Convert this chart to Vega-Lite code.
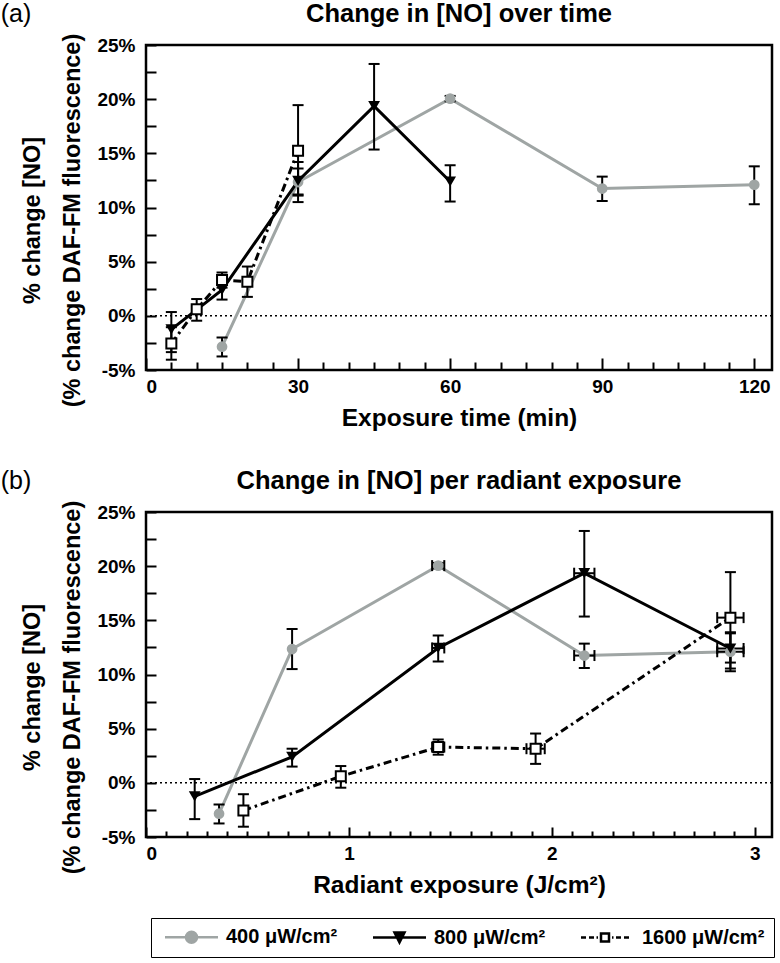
{
  "$schema": "https://vega.github.io/schema/vega-lite/v6.json",
  "background": "white",
  "padding": {"left": 0, "top": 0, "right": 5, "bottom": 5},
  "data": {"values": [
    {"series": "400", "t": 15, "e": 0.36, "y": -2.85, "lo": -3.75, "hi": -2.0, "elo": 0.352, "ehi": 0.368},
    {"series": "400", "t": 30, "e": 0.72, "y": 12.35, "lo": 10.5, "hi": 14.2, "elo": 0.705, "ehi": 0.735},
    {"series": "400", "t": 60, "e": 1.44, "y": 20.05, "lo": 19.8, "hi": 20.3, "elo": 1.41, "ehi": 1.47},
    {"series": "400", "t": 90, "e": 2.16, "y": 11.75, "lo": 10.6, "hi": 12.85, "elo": 2.11, "ehi": 2.21},
    {"series": "400", "t": 120, "e": 2.88, "y": 12.1, "lo": 10.3, "hi": 13.8, "elo": 2.815, "ehi": 2.945},
    {"series": "800", "t": 5, "e": 0.24, "y": -1.25, "lo": -3.35, "hi": 0.35, "elo": 0.235, "ehi": 0.245},
    {"series": "800", "t": 15, "e": 0.72, "y": 2.4, "lo": 1.5, "hi": 3.15, "elo": 0.705, "ehi": 0.735},
    {"series": "800", "t": 30, "e": 1.44, "y": 12.45, "lo": 11.2, "hi": 13.6, "elo": 1.41, "ehi": 1.47},
    {"series": "800", "t": 45, "e": 2.16, "y": 19.35, "lo": 15.35, "hi": 23.25, "elo": 2.11, "ehi": 2.21},
    {"series": "800", "t": 60, "e": 2.88, "y": 12.4, "lo": 10.55, "hi": 13.9, "elo": 2.815, "ehi": 2.945},
    {"series": "1600", "t": 5, "e": 0.48, "y": -2.55, "lo": -4.05, "hi": -1.05, "elo": 0.47, "ehi": 0.49},
    {"series": "1600", "t": 10, "e": 0.96, "y": 0.6, "lo": -0.45, "hi": 1.55, "elo": 0.94, "ehi": 0.98},
    {"series": "1600", "t": 15, "e": 1.44, "y": 3.3, "lo": 2.6, "hi": 4.0, "elo": 1.41, "ehi": 1.47},
    {"series": "1600", "t": 20, "e": 1.92, "y": 3.15, "lo": 1.75, "hi": 4.55, "elo": 1.875, "ehi": 1.965},
    {"series": "1600", "t": 30, "e": 2.88, "y": 15.25, "lo": 11.1, "hi": 19.45, "elo": 2.815, "ehi": 2.945}
  ]},
  "config": {
    "font": "Liberation Sans",
    "view": {"stroke": "black", "strokeWidth": 2.5},
    "axis": {"grid": false, "domain": false, "labelColor": "black", "labelFont": "Liberation Sans", "labelFontWeight": "bold", "labelFontSize": 19, "titleColor": "black", "titleFont": "Liberation Sans", "titleFontWeight": "bold", "titleFontSize": 24.5, "tickColor": "black", "tickWidth": 2},
    "title": {"font": "Liberation Sans", "fontSize": 25.5, "fontWeight": "bold", "color": "black", "offset": 6}
  },
  "spacing": 36,
  "resolve": {"scale": {"shape": "independent", "fill": "independent", "stroke": "independent"}},
  "vconcat": [
    {
      "title": {"text": "(a)", "anchor": "start", "frame": "bounds", "fontWeight": "normal", "fontSize": 25, "offset": -26, "dx": -19},
      "vconcat": [
        {
          "width": 626,
          "height": 325,
          "title": {"text": "Change in [NO] over time"},
          "resolve": {"axis": {"x": "independent", "y": "independent"}},
          "layer": [
            {
              "data": {"values": [{}]},
              "mark": {"type": "rule", "strokeDash": [2, 3], "strokeWidth": 1.5, "color": "black"},
              "encoding": {
                "y": {"datum": 0, "type": "quantitative", "scale": {"domain": [-5, 25], "nice": false, "zero": false},
                  "axis": {"orient": "left", "ticks": false, "values": [-5, 0, 5, 10, 15, 20, 25], "labelExpr": "datum.value + '%'", "labelPadding": 11, "title": ["% change [NO]", "(% change DAF-FM fluorescence)"], "titleFontSize": 23.5, "titleLineHeight": 40, "titlePadding": 12, "titleY": 175}}
              }
            },
            {
              "transform": [{"filter": "datum.series == '400'"}],
              "mark": {"type": "line", "color": "#9fa5a4", "strokeWidth": 3},
              "encoding": {
                "x": {"field": "t", "type": "quantitative", "scale": {"domain": [0, 123.5], "nice": false, "zero": false},
                  "axis": {"orient": "bottom", "ticks": false, "values": [0, 30, 60, 90, 120], "labelPadding": 7, "title": "Exposure time (min)", "titlePadding": 10}},
                "y": {"field": "y", "type": "quantitative", "scale": {"domain": [-5, 25], "nice": false, "zero": false},
                  "axis": {"orient": "left", "labels": false, "tickSize": -10, "values": [-5, -2.5, 0, 2.5, 5, 7.5, 10, 12.5, 15, 17.5, 20, 22.5, 25], "title": null}}
              }
            },
            {
              "transform": [{"filter": "datum.series == '800'"}],
              "mark": {"type": "line", "color": "black", "strokeWidth": 3},
              "encoding": {
                "x": {"field": "t", "type": "quantitative", "scale": {"domain": [0, 123.5], "nice": false, "zero": false},
                  "axis": {"orient": "bottom", "labels": false, "tickSize": -12, "values": [0, 30, 60, 90, 120], "title": null}},
                "y": {"field": "y", "type": "quantitative", "axis": null}
              }
            },
            {
              "transform": [{"filter": "datum.series == '1600'"}],
              "mark": {"type": "line", "color": "black", "strokeWidth": 3, "strokeDash": [8, 4, 2.5, 4]},
              "encoding": {
                "x": {"field": "t", "type": "quantitative", "scale": {"domain": [0, 123.5], "nice": false, "zero": false},
                  "axis": {"orient": "bottom", "labels": false, "tickSize": -8, "values": [5, 10, 15, 20, 25, 35, 40, 45, 50, 55, 65, 70, 75, 80, 85, 95, 100, 105, 110, 115], "title": null}},
                "y": {"field": "y", "type": "quantitative", "axis": null}
              }
            },
            {
              "mark": {"type": "rule", "color": "black", "strokeWidth": 2},
              "encoding": {
                "x": {"field": "t", "type": "quantitative", "axis": null},
                "y": {"field": "lo", "type": "quantitative", "axis": null},
                "y2": {"field": "hi"}
              }
            },
            {
              "mark": {"type": "tick", "orient": "horizontal", "size": 11, "thickness": 2, "color": "black", "opacity": 1},
              "encoding": {
                "x": {"field": "t", "type": "quantitative", "axis": null},
                "y": {"field": "lo", "type": "quantitative", "axis": null}
              }
            },
            {
              "mark": {"type": "tick", "orient": "horizontal", "size": 11, "thickness": 2, "color": "black", "opacity": 1},
              "encoding": {
                "x": {"field": "t", "type": "quantitative", "axis": null},
                "y": {"field": "hi", "type": "quantitative", "axis": null}
              }
            },
            {
              "transform": [{"filter": "datum.series == '400'"}],
              "mark": {"type": "point", "shape": "circle", "filled": true, "color": "#9fa5a4", "size": 115, "opacity": 1},
              "encoding": {
                "x": {"field": "t", "type": "quantitative", "axis": null},
                "y": {"field": "y", "type": "quantitative", "axis": null}
              }
            },
            {
              "transform": [{"filter": "datum.series == '800'"}],
              "mark": {"type": "point", "shape": "triangle-down", "filled": true, "color": "black", "size": 140, "opacity": 1},
              "encoding": {
                "x": {"field": "t", "type": "quantitative", "axis": null},
                "y": {"field": "y", "type": "quantitative", "axis": null}
              }
            },
            {
              "transform": [{"filter": "datum.series == '1600'"}],
              "mark": {"type": "point", "shape": "square", "filled": true, "fill": "white", "stroke": "black", "strokeWidth": 2, "size": 100, "opacity": 1},
              "encoding": {
                "x": {"field": "t", "type": "quantitative", "axis": null},
                "y": {"field": "y", "type": "quantitative", "axis": null}
              }
            }
          ]
        }
      ]
    },
    {
      "title": {"text": "(b)", "anchor": "start", "frame": "bounds", "fontWeight": "normal", "fontSize": 25, "offset": -26, "dx": -19},
      "resolve": {"scale": {"shape": "independent", "fill": "independent", "stroke": "independent"}},
      "vconcat": [
        {
          "width": 626,
          "height": 325,
          "title": {"text": "Change in [NO] per radiant exposure"},
          "resolve": {"axis": {"x": "independent", "y": "independent"}},
          "layer": [
            {
              "data": {"values": [{}]},
              "mark": {"type": "rule", "strokeDash": [2, 3], "strokeWidth": 1.5, "color": "black"},
              "encoding": {
                "y": {"datum": 0, "type": "quantitative", "scale": {"domain": [-5, 25], "nice": false, "zero": false},
                  "axis": {"orient": "left", "ticks": false, "values": [-5, 0, 5, 10, 15, 20, 25], "labelExpr": "datum.value + '%'", "labelPadding": 11, "title": ["% change [NO]", "(% change DAF-FM fluorescence)"], "titleFontSize": 23.5, "titleLineHeight": 40, "titlePadding": 12, "titleY": 175}}
              }
            },
            {
              "transform": [{"filter": "datum.series == '400'"}],
              "mark": {"type": "line", "color": "#9fa5a4", "strokeWidth": 3},
              "encoding": {
                "x": {"field": "e", "type": "quantitative", "scale": {"domain": [0, 3.085], "nice": false, "zero": false},
                  "axis": {"orient": "bottom", "ticks": false, "values": [0, 1, 2, 3], "labelPadding": 7, "title": "Radiant exposure (J/cm²)", "titlePadding": 10}},
                "y": {"field": "y", "type": "quantitative", "scale": {"domain": [-5, 25], "nice": false, "zero": false},
                  "axis": {"orient": "left", "labels": false, "tickSize": -10, "values": [-5, -2.5, 0, 2.5, 5, 7.5, 10, 12.5, 15, 17.5, 20, 22.5, 25], "title": null}}
              }
            },
            {
              "transform": [{"filter": "datum.series == '800'"}],
              "mark": {"type": "line", "color": "black", "strokeWidth": 3},
              "encoding": {
                "x": {"field": "e", "type": "quantitative", "scale": {"domain": [0, 3.085], "nice": false, "zero": false},
                  "axis": {"orient": "bottom", "labels": false, "tickSize": -10, "values": [0, 1, 2, 3], "title": null}},
                "y": {"field": "y", "type": "quantitative", "axis": null}
              }
            },
            {
              "transform": [{"filter": "datum.series == '1600'"}],
              "mark": {"type": "line", "color": "black", "strokeWidth": 3, "strokeDash": [8, 4, 2.5, 4]},
              "encoding": {
                "x": {"field": "e", "type": "quantitative", "scale": {"domain": [0, 3.085], "nice": false, "zero": false},
                  "axis": {"orient": "bottom", "labels": false, "tickSize": -6, "values": [0.1, 0.2, 0.3, 0.4, 0.5, 0.6, 0.7, 0.8, 0.9, 1.1, 1.2, 1.3, 1.4, 1.5, 1.6, 1.7, 1.8, 1.9, 2.1, 2.2, 2.3, 2.4, 2.5, 2.6, 2.7, 2.8, 2.9], "title": null}},
                "y": {"field": "y", "type": "quantitative", "axis": null}
              }
            },
            {
              "mark": {"type": "rule", "color": "black", "strokeWidth": 2},
              "encoding": {
                "x": {"field": "e", "type": "quantitative", "axis": null},
                "y": {"field": "lo", "type": "quantitative", "axis": null},
                "y2": {"field": "hi"}
              }
            },
            {
              "mark": {"type": "tick", "orient": "horizontal", "size": 11, "thickness": 2, "color": "black", "opacity": 1},
              "encoding": {
                "x": {"field": "e", "type": "quantitative", "axis": null},
                "y": {"field": "lo", "type": "quantitative", "axis": null}
              }
            },
            {
              "mark": {"type": "tick", "orient": "horizontal", "size": 11, "thickness": 2, "color": "black", "opacity": 1},
              "encoding": {
                "x": {"field": "e", "type": "quantitative", "axis": null},
                "y": {"field": "hi", "type": "quantitative", "axis": null}
              }
            },
            {
              "transform": [{"filter": "datum.ehi - datum.elo > 0.05"}],
              "mark": {"type": "rule", "color": "black", "strokeWidth": 2},
              "encoding": {
                "x": {"field": "elo", "type": "quantitative", "axis": null},
                "x2": {"field": "ehi"},
                "y": {"field": "y", "type": "quantitative", "axis": null}
              }
            },
            {
              "transform": [{"filter": "datum.ehi - datum.elo > 0.05"}],
              "mark": {"type": "tick", "orient": "vertical", "size": 11, "thickness": 2, "color": "black", "opacity": 1},
              "encoding": {
                "x": {"field": "elo", "type": "quantitative", "axis": null},
                "y": {"field": "y", "type": "quantitative", "axis": null}
              }
            },
            {
              "transform": [{"filter": "datum.ehi - datum.elo > 0.05"}],
              "mark": {"type": "tick", "orient": "vertical", "size": 11, "thickness": 2, "color": "black", "opacity": 1},
              "encoding": {
                "x": {"field": "ehi", "type": "quantitative", "axis": null},
                "y": {"field": "y", "type": "quantitative", "axis": null}
              }
            },
            {
              "transform": [{"filter": "datum.series == '400'"}],
              "mark": {"type": "point", "shape": "circle", "filled": true, "color": "#9fa5a4", "size": 115, "opacity": 1},
              "encoding": {
                "x": {"field": "e", "type": "quantitative", "axis": null},
                "y": {"field": "y", "type": "quantitative", "axis": null}
              }
            },
            {
              "transform": [{"filter": "datum.series == '800'"}],
              "mark": {"type": "point", "shape": "triangle-down", "filled": true, "color": "black", "size": 140, "opacity": 1},
              "encoding": {
                "x": {"field": "e", "type": "quantitative", "axis": null},
                "y": {"field": "y", "type": "quantitative", "axis": null}
              }
            },
            {
              "transform": [{"filter": "datum.series == '1600'"}],
              "mark": {"type": "point", "shape": "square", "filled": true, "fill": "white", "stroke": "black", "strokeWidth": 2, "size": 100, "opacity": 1},
              "encoding": {
                "x": {"field": "e", "type": "quantitative", "axis": null},
                "y": {"field": "y", "type": "quantitative", "axis": null}
              }
            },
            {
              "transform": [{"filter": "false"}],
              "mark": {"type": "point", "filled": true, "opacity": 1},
              "encoding": {
                "x": {"field": "e", "type": "quantitative", "axis": null},
                "y": {"field": "y", "type": "quantitative", "axis": null},
                "shape": {"field": "series", "type": "nominal", "title": null,
                  "scale": {"domain": ["400", "800", "1600"], "range": ["M-1,0H9.6M3.2,0A1.1,1.1,0,1,0,5.4,0A1.1,1.1,0,1,0,3.2,0Z", "M-1,0H9.6M3.3,-1H5.3L4.3,1Z", "M-1,0H0M0.6,0H1.6M2.1,0H2.4M3,-0.8H4.6V0.8H3ZM5.2,0H5.5M6,0H7M7.6,0H8.6"]},
                  "legend": {"orient": "none", "legendX": 5, "legendY": 406, "direction": "horizontal", "symbolSize": 100, "symbolStrokeWidth": 2.5, "symbolOpacity": 1, "labelFontSize": 20, "labelFontWeight": "bold", "labelFont": "Liberation Sans", "labelColor": "black", "labelOffset": 46, "columnPadding": 30, "padding": 9, "strokeColor": "black", "labelExpr": "datum.label + ' μW/cm²'"}},
                "fill": {"field": "series", "type": "nominal", "title": null,
                  "scale": {"domain": ["400", "800", "1600"], "range": ["#9fa5a4", "black", "white"]},
                  "legend": {"orient": "none", "legendX": 5, "legendY": 406, "direction": "horizontal", "symbolSize": 100, "symbolStrokeWidth": 2.5, "symbolOpacity": 1, "labelFontSize": 20, "labelFontWeight": "bold", "labelFont": "Liberation Sans", "labelColor": "black", "labelOffset": 46, "columnPadding": 30, "padding": 9, "strokeColor": "black", "labelExpr": "datum.label + ' μW/cm²'"}},
                "stroke": {"field": "series", "type": "nominal", "title": null,
                  "scale": {"domain": ["400", "800", "1600"], "range": ["#9fa5a4", "black", "black"]},
                  "legend": {"orient": "none", "legendX": 5, "legendY": 406, "direction": "horizontal", "symbolSize": 100, "symbolStrokeWidth": 2.5, "symbolOpacity": 1, "labelFontSize": 20, "labelFontWeight": "bold", "labelFont": "Liberation Sans", "labelColor": "black", "labelOffset": 46, "columnPadding": 30, "padding": 9, "strokeColor": "black", "labelExpr": "datum.label + ' μW/cm²'"}}
              }
            }
          ]
        }
      ]
    }
  ]
}
